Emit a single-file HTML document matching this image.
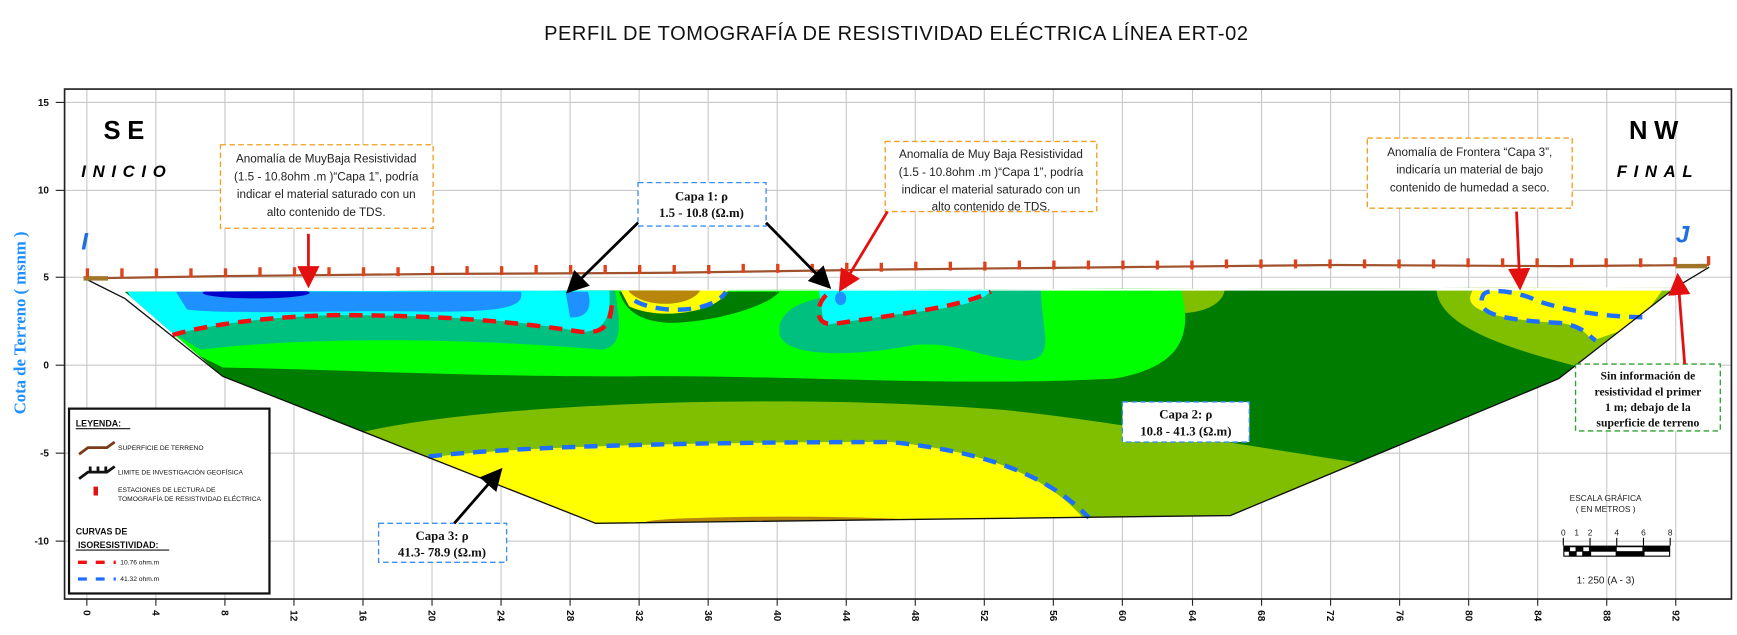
<!DOCTYPE html>
<html><head><meta charset="utf-8"><style>
html,body{margin:0;padding:0;background:#fff;}
svg{display:block;}
text{font-family:"Liberation Sans",sans-serif;}
text.sf,.sf text{font-family:"Liberation Serif",serif;font-weight:bold;}
</style></head><body>
<svg width="1737" height="635" viewBox="0 0 1560 570.3" preserveAspectRatio="none" xmlns="http://www.w3.org/2000/svg">
<defs>
<clipPath id="poly"><path d="M112,262 L1505,258 L1400,340 L1105,463 L535,470 L200,338 Z"/></clipPath>
<marker id="ah" markerWidth="8" markerHeight="8" refX="6" refY="4" orient="auto"><path d="M0,0 L8,4 L0,8 Z" fill="#000"/></marker>
<marker id="ar" markerWidth="8" markerHeight="8" refX="6" refY="4" orient="auto"><path d="M0,0 L8,4 L0,8 Z" fill="#e41010"/></marker>
</defs>
<text x="805" y="36" text-anchor="middle" font-size="18" letter-spacing="0.5" fill="#111">PERFIL DE TOMOGRAFÍA DE RESISTIVIDAD ELÉCTRICA LÍNEA  ERT-02</text>
<g stroke="#c8c8c8" stroke-width="1">
<line x1="58" y1="92" x2="1555" y2="92"/><line x1="58" y1="171" x2="1555" y2="171"/><line x1="58" y1="249" x2="1555" y2="249"/><line x1="58" y1="328" x2="1555" y2="328"/><line x1="58" y1="407" x2="1555" y2="407"/><line x1="58" y1="486" x2="1555" y2="486"/>
<line x1="78" y1="80" x2="78" y2="538"/><line x1="140" y1="80" x2="140" y2="538"/><line x1="202" y1="80" x2="202" y2="538"/><line x1="264" y1="80" x2="264" y2="538"/><line x1="326" y1="80" x2="326" y2="538"/><line x1="388" y1="80" x2="388" y2="538"/><line x1="450" y1="80" x2="450" y2="538"/><line x1="512" y1="80" x2="512" y2="538"/><line x1="574" y1="80" x2="574" y2="538"/><line x1="636" y1="80" x2="636" y2="538"/><line x1="698" y1="80" x2="698" y2="538"/><line x1="760" y1="80" x2="760" y2="538"/><line x1="822" y1="80" x2="822" y2="538"/><line x1="884" y1="80" x2="884" y2="538"/><line x1="946" y1="80" x2="946" y2="538"/><line x1="1008" y1="80" x2="1008" y2="538"/><line x1="1071" y1="80" x2="1071" y2="538"/><line x1="1133" y1="80" x2="1133" y2="538"/><line x1="1195" y1="80" x2="1195" y2="538"/><line x1="1257" y1="80" x2="1257" y2="538"/><line x1="1319" y1="80" x2="1319" y2="538"/><line x1="1381" y1="80" x2="1381" y2="538"/><line x1="1443" y1="80" x2="1443" y2="538"/><line x1="1505" y1="80" x2="1505" y2="538"/>
</g>
<rect x="58" y="80" width="1497" height="458" fill="none" stroke="#222" stroke-width="1.5"/>
<g font-size="9" font-weight="bold" text-anchor="end" fill="#111">
<text x="44" y="95">15</text><text x="44" y="174">10</text><text x="44" y="252">5</text><text x="44" y="331">0</text><text x="44" y="410">-5</text><text x="44" y="489">-10</text>
</g>
<g stroke="#222"><line x1="50" y1="92" x2="58" y2="92"/><line x1="50" y1="171" x2="58" y2="171"/><line x1="50" y1="249" x2="58" y2="249"/><line x1="50" y1="328" x2="58" y2="328"/><line x1="50" y1="407" x2="58" y2="407"/><line x1="50" y1="486" x2="58" y2="486"/></g>
<text class="sf" transform="translate(23,290) rotate(-90)" text-anchor="middle" font-size="15" fill="#1e8fff">Cota de Terreno  ( msnm )</text>
<g font-size="9" font-weight="bold" fill="#111">
<text transform="translate(75,548) rotate(90)">0</text><text transform="translate(137,548) rotate(90)">4</text><text transform="translate(199,548) rotate(90)">8</text><text transform="translate(261,548) rotate(90)">12</text><text transform="translate(323,548) rotate(90)">16</text><text transform="translate(385,548) rotate(90)">20</text><text transform="translate(447,548) rotate(90)">24</text><text transform="translate(509,548) rotate(90)">28</text><text transform="translate(571,548) rotate(90)">32</text><text transform="translate(633,548) rotate(90)">36</text><text transform="translate(695,548) rotate(90)">40</text><text transform="translate(757,548) rotate(90)">44</text><text transform="translate(819,548) rotate(90)">48</text><text transform="translate(881,548) rotate(90)">52</text><text transform="translate(943,548) rotate(90)">56</text><text transform="translate(1005,548) rotate(90)">60</text><text transform="translate(1068,548) rotate(90)">64</text><text transform="translate(1130,548) rotate(90)">68</text><text transform="translate(1192,548) rotate(90)">72</text><text transform="translate(1254,548) rotate(90)">76</text><text transform="translate(1316,548) rotate(90)">80</text><text transform="translate(1378,548) rotate(90)">84</text><text transform="translate(1440,548) rotate(90)">88</text><text transform="translate(1502,548) rotate(90)">92</text>
</g>
<g stroke="#222"><line x1="78" y1="538" x2="78" y2="544"/><line x1="140" y1="538" x2="140" y2="544"/><line x1="202" y1="538" x2="202" y2="544"/><line x1="264" y1="538" x2="264" y2="544"/><line x1="326" y1="538" x2="326" y2="544"/><line x1="388" y1="538" x2="388" y2="544"/><line x1="450" y1="538" x2="450" y2="544"/><line x1="512" y1="538" x2="512" y2="544"/><line x1="574" y1="538" x2="574" y2="544"/><line x1="636" y1="538" x2="636" y2="544"/><line x1="698" y1="538" x2="698" y2="544"/><line x1="760" y1="538" x2="760" y2="544"/><line x1="822" y1="538" x2="822" y2="544"/><line x1="884" y1="538" x2="884" y2="544"/><line x1="946" y1="538" x2="946" y2="544"/><line x1="1008" y1="538" x2="1008" y2="544"/><line x1="1071" y1="538" x2="1071" y2="544"/><line x1="1133" y1="538" x2="1133" y2="544"/><line x1="1195" y1="538" x2="1195" y2="544"/><line x1="1257" y1="538" x2="1257" y2="544"/><line x1="1319" y1="538" x2="1319" y2="544"/><line x1="1381" y1="538" x2="1381" y2="544"/><line x1="1443" y1="538" x2="1443" y2="544"/><line x1="1505" y1="538" x2="1505" y2="544"/></g>

<g clip-path="url(#poly)">
<rect x="100" y="255" width="1420" height="230" fill="#007d00"/>
<path d="M300,395 C400,362 700,352 900,368 C1000,378 1100,398 1250,420 L1250,500 L300,500 Z" fill="#80bf00"/>
<path d="M1290,258 C1290,292 1350,312 1420,330 L1510,258 Z" fill="#80bf00"/>
<path d="M1030,258 L1100,258 C1100,280 1060,286 1035,278 Z" fill="#80bf00"/>
<path d="M385,411 C450,402 600,397 800,397 C880,405 940,425 975,468 L540,475 L380,420 Z" fill="#ffff00"/>
<ellipse cx="705" cy="469" rx="125" ry="5" fill="#b8860b"/>
<path d="M1325,258 C1310,275 1330,286 1400,290 C1420,292 1425,300 1430,306 L1470,292 L1495,258 Z" fill="#ffff00"/>
<path d="M140,258 L1060,258 C1072,300 1062,330 1000,340 C850,348 700,336 560,338 C420,338 300,332 200,330 L140,300 Z" fill="#00ff00"/>
<path d="M556,262 L700,262 C690,275 640,290 600,290 C575,288 562,280 556,262 Z" fill="#007d00"/>
<path d="M112,258 L552,258 C556,285 562,312 540,314 C450,306 300,300 180,314 L140,290 Z" fill="#00c080"/>
<path d="M700,292 C710,262 760,260 935,258 C935,300 950,322 920,324 C880,322 860,306 820,310 C770,320 705,322 700,300 Z" fill="#00c080"/>
<path d="M112,258 L547,258 C549,280 546,298 522,298 C480,290 420,283 300,283 C220,285 170,296 155,301 L125,280 Z" fill="#00ffff"/>
<path d="M735,258 L892,258 C885,272 860,276 800,283 L740,292 Z" fill="#00ffff"/>
<path d="M158,262 L468,262 C470,274 460,280 390,280 C300,278 210,283 168,278 Z" fill="#1e90ff"/>
<path d="M508,262 L528,262 C532,275 528,286 512,285 Z" fill="#1e90ff"/>
<ellipse cx="755" cy="268" rx="5" ry="6" fill="#1e90ff"/>
<ellipse cx="230" cy="263" rx="48" ry="5" fill="#0000cd"/>
<path d="M556,258 L655,258 C648,282 590,288 565,275 Z" fill="#ffff00"/>
<path d="M565,258 L630,258 C625,276 580,278 565,262 Z" fill="#b8860b"/>
<rect x="100" y="250" width="1420" height="11" fill="#fff"/>
</g>
<g fill="none" stroke-width="4" stroke-dasharray="12 8">
<path d="M155,301 C170,296 220,285 300,283 C420,283 480,292 522,298 C545,300 548,290 550,270" stroke="#f01010"/>
<path d="M742,265 C732,275 732,292 748,291 C800,283 860,277 890,262" stroke="#f01010"/>
<path d="M385,410 C450,402 600,397 800,397 C880,405 940,425 978,465" stroke="#1e6fff"/>
<path d="M570,270 C590,282 640,282 652,262" stroke="#1e6fff"/>
<path d="M1475,285 C1440,284 1410,280 1380,270 C1365,262 1335,258 1332,265 C1325,280 1340,287 1400,290 C1420,292 1425,300 1433,306" stroke="#1e6fff"/>
</g>
<path d="M78,251 L112,268 L200,338 L535,470 L1105,463 L1400,340 L1505,258 L1535,240" fill="none" stroke="#111" stroke-width="1.2"/>
<path d="M78,250 L200,248 L400,246 L600,245 L800,242 L1000,240 L1200,238 L1400,239 L1535,238" fill="none" stroke="#a0522d" stroke-width="2"/>
<rect x="75" y="248" width="22" height="4" fill="#a0762b"/><rect x="1505" y="237" width="28" height="4" fill="#a0762b"/>
<g fill="#e0401a">
<rect x="77" y="241" width="3" height="8"/><rect x="108" y="241" width="3" height="8"/><rect x="139" y="241" width="3" height="8"/><rect x="170" y="241" width="3" height="8"/><rect x="201" y="241" width="3" height="8"/><rect x="232" y="240" width="3" height="8"/><rect x="263" y="240" width="3" height="8"/><rect x="294" y="240" width="3" height="8"/><rect x="325" y="240" width="3" height="8"/><rect x="356" y="240" width="3" height="8"/><rect x="387" y="239" width="3" height="8"/><rect x="418" y="239" width="3" height="8"/><rect x="449" y="239" width="3" height="8"/><rect x="480" y="238" width="3" height="8"/><rect x="511" y="238" width="3" height="8"/><rect x="542" y="238" width="3" height="8"/><rect x="573" y="238" width="3" height="8"/><rect x="604" y="238" width="3" height="8"/><rect x="635" y="238" width="3" height="8"/><rect x="666" y="237" width="3" height="8"/><rect x="697" y="237" width="3" height="8"/><rect x="728" y="237" width="3" height="8"/><rect x="759" y="236" width="3" height="8"/><rect x="790" y="236" width="3" height="8"/><rect x="821" y="235" width="3" height="8"/><rect x="852" y="235" width="3" height="8"/><rect x="883" y="235" width="3" height="8"/><rect x="914" y="234" width="3" height="8"/><rect x="945" y="234" width="3" height="8"/><rect x="976" y="234" width="3" height="8"/><rect x="1007" y="234" width="3" height="8"/><rect x="1038" y="234" width="3" height="8"/><rect x="1069" y="234" width="3" height="8"/><rect x="1100" y="233" width="3" height="8"/><rect x="1131" y="233" width="3" height="8"/><rect x="1162" y="233" width="3" height="8"/><rect x="1193" y="233" width="3" height="8"/><rect x="1224" y="233" width="3" height="8"/><rect x="1255" y="233" width="3" height="8"/><rect x="1286" y="233" width="3" height="8"/><rect x="1317" y="232" width="3" height="8"/><rect x="1348" y="232" width="3" height="8"/><rect x="1379" y="232" width="3" height="8"/><rect x="1410" y="232" width="3" height="8"/><rect x="1441" y="232" width="3" height="8"/><rect x="1472" y="232" width="3" height="8"/><rect x="1503" y="231" width="3" height="8"/><rect x="1533" y="230" width="3" height="8"/>
</g>
<text x="93" y="125" font-size="23" font-weight="bold" letter-spacing="6">SE</text>
<text x="73" y="159" font-size="15" font-weight="bold" font-style="italic" letter-spacing="6">INICIO</text>
<text x="73" y="224" font-size="22" font-weight="bold" font-style="italic" fill="#1e6fdf">I</text>
<text x="1463" y="125" font-size="23" font-weight="bold" letter-spacing="6">NW</text>
<text x="1452" y="159" font-size="15" font-weight="bold" font-style="italic" letter-spacing="6">FINAL</text>
<text x="1505" y="218" font-size="22" font-weight="bold" font-style="italic" fill="#1e6fdf">J</text>
<g stroke-dasharray="5 3" stroke-width="1.2" fill="#fff">
<rect x="198" y="130" width="191" height="75" stroke="#f0a020"/>
<rect x="795" y="127" width="190" height="63" stroke="#f0a020"/>
<rect x="1228" y="124" width="184" height="63" stroke="#f0a020"/>
<rect x="573" y="164" width="115" height="39" stroke="#3a8fef"/>
<rect x="1008" y="361" width="114" height="36" stroke="#3a8fef"/>
<rect x="340" y="470" width="115" height="35" stroke="#3a8fef"/>
<rect x="1415" y="327" width="130" height="60" stroke="#30a030"/>
</g>
<g font-size="10.5" text-anchor="middle" fill="#222">
<text x="293" y="146">Anomalía de MuyBaja Resistividad</text><text x="293" y="162">(1.5 - 10.8ohm .m )“Capa 1”, podría</text><text x="293" y="178">indicar el material saturado con un</text><text x="293" y="194">alto contenido de TDS.</text>
<text x="890" y="142">Anomalía de Muy Baja Resistividad</text><text x="890" y="158">(1.5 - 10.8ohm .m )“Capa 1”, podría</text><text x="890" y="174">indicar el material saturado con un</text><text x="890" y="189">alto contenido de TDS.</text>
<text x="1320" y="140">Anomalía de Frontera “Capa 3”,</text><text x="1320" y="156">indicaría un material de bajo</text><text x="1320" y="172">contenido de humedad a seco.</text>
</g>
<g class="sf" font-size="11.5" text-anchor="middle" fill="#111">
<text x="630" y="180">Capa 1: ρ</text><text x="630" y="195">1.5 - 10.8 (Ω.m)</text>
<text x="1065" y="376">Capa 2: ρ</text><text x="1065" y="391">10.8 - 41.3 (Ω.m)</text>
<text x="397" y="485">Capa 3: ρ</text><text x="397" y="500">41.3- 78.9 (Ω.m)</text>
<text x="1480" y="341" font-size="10.5">Sin información de</text><text x="1480" y="355" font-size="10.5">resistividad el primer</text><text x="1480" y="369" font-size="10.5">1 m; debajo de la</text><text x="1480" y="383" font-size="10.5">superficie de terreno</text>
</g>
<g stroke-width="2.5" fill="none">
<line x1="573" y1="200" x2="512" y2="260" stroke="#000" marker-end="url(#ah)"/>
<line x1="688" y1="200" x2="743" y2="256" stroke="#000" marker-end="url(#ah)"/>
<line x1="408" y1="470" x2="448" y2="424" stroke="#000" marker-end="url(#ah)"/>
<line x1="277" y1="210" x2="277" y2="254" stroke="#e41010" marker-end="url(#ar)"/>
<line x1="797" y1="190" x2="756" y2="258" stroke="#e41010" marker-end="url(#ar)"/>
<line x1="1362" y1="190" x2="1365" y2="256" stroke="#e41010" marker-end="url(#ar)"/>
<line x1="1513" y1="327" x2="1507" y2="250" stroke="#e41010" marker-end="url(#ar)"/>
</g>
<rect x="62" y="367" width="180" height="166" fill="#fff" stroke="#111" stroke-width="2"/>
<g font-size="8" fill="#111">
<text x="68" y="383" font-weight="bold">LEYENDA:</text><line x1="68" y1="385" x2="117" y2="385" stroke="#111"/>
<path d="M71,408 L79,402 L96,402 L103,397" stroke="#7b3a1a" stroke-width="2.5" fill="none"/>
<text x="106" y="404" font-size="6">SUPERFICIE DE TERRENO</text>
<path d="M71,430 L79,424 L96,424 L103,419 M81,419 L81,424 M88,419 L88,424 M95,419 L95,424" stroke="#111" stroke-width="2.5" fill="none"/>
<text x="106" y="426" font-size="6">LIMITE DE INVESTIGACIÓN GEOFÍSICA</text>
<rect x="84" y="437" width="4" height="8" fill="#e41010"/>
<text x="106" y="442" font-size="6">ESTACIONES DE LECTURA DE</text><text x="106" y="450" font-size="6">TOMOGRAFÍA DE RESISTIVIDAD ELÉCTRICA</text>
<text x="68" y="480" font-weight="bold">CURVAS DE</text><text x="70" y="492" font-weight="bold">ISORESISTIVIDAD:</text><line x1="68" y1="494" x2="152" y2="494" stroke="#111"/>
<line x1="70" y1="505" x2="104" y2="505" stroke="#f01010" stroke-width="3" stroke-dasharray="8 8"/>
<text x="108" y="507" font-size="6">10.76   ohm.m</text>
<line x1="70" y1="520" x2="104" y2="520" stroke="#1e6fff" stroke-width="3" stroke-dasharray="8 8"/>
<text x="108" y="522" font-size="6">41.32   ohm.m</text>
</g>
<g font-size="7.5" fill="#222" text-anchor="middle">
<text x="1442" y="450">ESCALA GRÁFICA</text><text x="1442" y="460">( EN METROS )</text>
<text x="1404" y="481">0</text><text x="1416" y="481">1</text><text x="1428" y="481">2</text><text x="1452" y="481">4</text><text x="1476" y="481">6</text><text x="1500" y="481">8</text>
<text x="1442" y="524" font-size="9">1: 250 (A - 3)</text>
</g>
<g>
<rect x="1404" y="490" width="96" height="10" fill="#000"/>
<rect x="1410" y="491.5" width="5" height="3.5" fill="#fff"/><rect x="1422" y="491.5" width="5" height="3.5" fill="#fff"/><rect x="1452" y="491.5" width="23" height="3.5" fill="#fff"/>
<rect x="1405" y="495.5" width="4" height="3.5" fill="#fff"/><rect x="1416" y="495.5" width="5" height="3.5" fill="#fff"/><rect x="1429" y="495.5" width="22" height="3.5" fill="#fff"/><rect x="1477" y="495.5" width="22" height="3.5" fill="#fff"/>
<line x1="1404" y1="483" x2="1404" y2="490" stroke="#000"/><line x1="1428" y1="483" x2="1428" y2="490" stroke="#000"/><line x1="1452" y1="483" x2="1452" y2="490" stroke="#000"/><line x1="1476" y1="483" x2="1476" y2="490" stroke="#000"/><line x1="1500" y1="483" x2="1500" y2="490" stroke="#000"/>
</g>
</svg>
</body></html>
